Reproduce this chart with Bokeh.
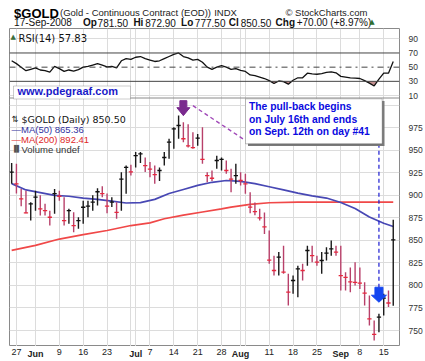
import numpy as np
from bokeh.plotting import figure
from bokeh.layouts import column
from bokeh.models import Range1d, FixedTicker, Span, Label, BoxAnnotation, Grid
from bokeh.embed import file_html
from bokeh.resources import INLINE

# ---------------- data ----------------
dates = ["2008-05-23", "2008-05-27", "2008-05-28", "2008-05-29", "2008-05-30",
         "2008-06-02", "2008-06-03", "2008-06-04", "2008-06-05", "2008-06-06",
         "2008-06-09", "2008-06-10", "2008-06-11", "2008-06-12", "2008-06-13",
         "2008-06-16", "2008-06-17", "2008-06-18", "2008-06-19", "2008-06-20",
         "2008-06-23", "2008-06-24", "2008-06-25", "2008-06-26", "2008-06-27",
         "2008-06-30", "2008-07-01", "2008-07-02", "2008-07-03", "2008-07-07",
         "2008-07-08", "2008-07-09", "2008-07-10", "2008-07-11", "2008-07-14",
         "2008-07-15", "2008-07-16", "2008-07-17", "2008-07-18", "2008-07-21",
         "2008-07-22", "2008-07-23", "2008-07-24", "2008-07-25", "2008-07-28",
         "2008-07-29", "2008-07-30", "2008-07-31", "2008-08-01", "2008-08-04",
         "2008-08-05", "2008-08-06", "2008-08-07", "2008-08-08", "2008-08-11",
         "2008-08-12", "2008-08-13", "2008-08-14", "2008-08-15", "2008-08-18",
         "2008-08-19", "2008-08-20", "2008-08-21", "2008-08-22", "2008-08-25",
         "2008-08-26", "2008-08-27", "2008-08-28", "2008-08-29", "2008-09-02",
         "2008-09-03", "2008-09-04", "2008-09-05", "2008-09-08", "2008-09-09",
         "2008-09-10", "2008-09-11", "2008-09-12", "2008-09-15", "2008-09-16",
         "2008-09-17"]

highs = [936, 935, 907, 905, 892.4, 905, 900, 890.6, 883, 907,
         905, 898, 885, 881.3, 875.7, 894, 894, 900, 908, 910,
         902, 898, 892.4, 925.7, 933, 934, 948, 948, 942, 937,
         933, 931, 948, 962.8, 975.6, 988.6, 981, 979, 970, 968,
         975.6, 925.7, 927.6, 944, 942, 938.7, 929.5, 935, 925.7, 924,
         903.5, 892, 885, 881, 861, 833, 837, 844, 813, 811,
         822, 824, 844, 844, 833, 837, 842.5, 850, 844, 844,
         814.7, 820, 825.8, 820, 803.6, 788.8, 761, 768.5, 790.7, 794.4,
         872.9]
lows = [913, 902, 888, 880, 872, 883, 877.6, 877.6, 866.5, 879.5,
        894, 866.5, 868.4, 859, 862.8, 868.4, 875.7, 883, 888.7, 898,
        880, 887, 874, 883, 901.7, 922, 931, 936, 926, 920,
        913, 916, 933, 940.5, 951.6, 962.8, 959, 953, 951.6, 955,
        935, 914.6, 916, 929.5, 927.6, 924, 903.5, 913, 911, 901.7,
        880, 878, 872, 857, 824, 811, 811, 813, 777.7, 790.7,
        787, 805.5, 822, 825.8, 822, 813, 827.7, 833, 833, 794.4,
        794.4, 792.5, 800, 796, 777.7, 755.5, 738.9, 748, 766.6, 776,
        777.5]
closes = [925.7, 912.8, 896, 880.5, 890.6, 898, 885, 883, 875.7, 902,
          899, 872, 883, 866.5, 872, 886.8, 888, 892.4, 904, 902,
          888, 892.4, 881, 918, 931, 926, 944, 946, 933, 929,
          923, 927.6, 942, 959, 973.8, 977.5, 962.8, 955, 953, 963.5,
          940, 922, 919, 938.7, 940, 927.6, 918, 922, 916.5, 912.8,
          887, 882, 875, 865, 828, 816.6, 831.4, 814.7, 792.5, 805.5,
          818.5, 816.6, 838.8, 833, 825.8, 827.7, 835.8, 840.7, 837, 811,
          809, 804, 803.5, 802.5, 791.5, 763, 745.6, 764.8, 786, 780.5,
          850.5]
rsi14 = [59, 55, 50, 45, 47, 49, 46, 45, 43, 51,
         48, 44, 46, 44.5, 46.5, 50, 51, 53, 55, 53,
         50.5, 51, 49, 59, 62, 61, 64, 65, 62, 60,
         58, 59, 62, 65, 68, 70, 65, 63, 60, 61,
         57, 50, 47, 50, 52, 50, 47, 48, 45.5, 44,
         39, 38, 36, 34, 31, 27, 30.5, 29.5, 26, 31.5,
         35, 35, 41.5, 40.5, 40, 41, 42.5, 43.5, 42, 37,
         36, 35, 34.5, 34, 31, 27.5, 23.5, 33, 41.5, 41.5,
         57.83]
ma50_dates = ["2008-05-23", "2008-05-29", "2008-06-03", "2008-06-06", "2008-06-11",
              "2008-06-16", "2008-06-19", "2008-06-24", "2008-06-27", "2008-07-02",
              "2008-07-08", "2008-07-11", "2008-07-16", "2008-07-21", "2008-07-24",
              "2008-07-29", "2008-08-01", "2008-08-06", "2008-08-11", "2008-08-14",
              "2008-08-19", "2008-08-22", "2008-08-27", "2008-09-02", "2008-09-05",
              "2008-09-10", "2008-09-15", "2008-09-17"]
ma50_vals = [913, 906, 903, 900, 899, 897, 895.5, 893.5, 891.5, 892,
             895.5, 902, 906.5, 911, 914.5, 916.5, 915.5, 913, 909.5, 906,
             902.5, 899.5, 897, 892, 885.5, 876, 869, 865.36]
ma200_dates = ["2008-05-23", "2008-06-02", "2008-06-09", "2008-06-16", "2008-06-23",
               "2008-06-30", "2008-07-07", "2008-07-10", "2008-07-16", "2008-07-22",
               "2008-07-28", "2008-07-30", "2008-08-05", "2008-08-11", "2008-08-19",
               "2008-09-02", "2008-09-17"]
ma200_vals = [839, 844.5, 851.5, 856.5, 861, 866.5, 869.5, 874, 878, 881.5,
              885, 887, 890, 891.8, 892.4, 892.6, 892.41]
xtick_dates = ["2008-05-27", "2008-06-02", "2008-06-09", "2008-06-16", "2008-06-23",
               "2008-06-30", "2008-07-01", "2008-07-07", "2008-07-14", "2008-07-21",
               "2008-07-28", "2008-08-01", "2008-08-04", "2008-08-11", "2008-08-18",
               "2008-08-25", "2008-09-02", "2008-09-08", "2008-09-15"]
xtick_labels = ["27", "Jun", "9", "16", "23", "", "Jul", "7", "14", "21",
                "28", "Aug", "", "11", "18", "25", "Sep", "8", "15"]
month_labels = ["Jun", "Jul", "Aug", "Sep"]
price_ticks = [750, 775, 800, 825, 850, 875, 900, 925, 950, 975]
price_grid = [750, 775, 800, 825, 850, 875, 900, 925, 950, 975, 1000]
rsi_ticks = [10, 30, 50, 70, 90]

# ---------------- geometry (page pixels) ----------------
PAGE_W, PAGE_H = 425, 361
HEADER_H = 28
FL, FR, FT, FB = 9, 399, 28, 346          # main frame edges on the page
FOOTER_H = PAGE_H - FB
BAR_PX = 4.77
FIRST_BAR_X = 11.15
PRICE_PX = 0.901
RSI_PX = 0.709
x_start = -(FIRST_BAR_X - FL) / BAR_PX
x_end = x_start + (FR - FL) / BAR_PX
y_start = 750 - (FB - 330) / PRICE_PX
y_end = y_start + (FB - FT) / PRICE_PX
r_end = 90 + (38.3 - FT) / RSI_PX
r_start = r_end - (FB - FT) / RSI_PX


def X(px):
    return x_start + (px - FL) / BAR_PX


def Y(py):
    return y_start + (FB - py) / PRICE_PX


def rsi_to_price(r):
    return y_start + (r - r_start) / (r_end - r_start) * (y_end - y_start)


idx = {d: i for i, d in enumerate(dates)}
xs = np.arange(len(dates))
hi = np.array(highs)
lo = np.array(lows)
cl = np.array(closes)
up = np.concatenate([[True], cl[1:] > cl[:-1]])
x_range = Range1d(x_start, x_end)


def bare(fig):
    fig.axis.visible = False
    fig.grid.visible = False
    fig.outline_line_color = None
    fig.background_fill_color = "white"
    fig.border_fill_color = "white"


# ---------------- header figure ----------------
hdr = figure(width=PAGE_W, height=HEADER_H, x_range=Range1d(0, PAGE_W), y_range=Range1d(HEADER_H, 0),
             output_backend="svg", toolbar_location=None,
             min_border_left=0, min_border_right=0, min_border_top=0, min_border_bottom=0)
bare(hdr)


def hlab(text, px, py, size, bold=False, color="#111111", font="Liberation Sans", align="left"):
    hdr.add_layout(Label(x=px, y=py, text=text, text_font=font, text_font_size=f"{size}px",
                         text_font_style="bold" if bold else "normal", text_color=color,
                         text_align=align, text_baseline="alphabetic"))


hlab("$GOLD", 5, 12.5, 13, bold=True, color="#000000")
hlab("(Gold - Continuous Contract (EOD))", 55, 12, 9.5, color="#222222")
hlab("INDX", 223, 12, 9.5, color="#222222")
hlab("\u00a9 StockCharts.com", 390, 12, 9.5, color="#222222", align="right")
for txt, px, b in [("17-Sep-2008", 5, False), ("Op", 80, True), ("781.50", 96, False),
                   ("Hi", 135, True), ("872.90", 148, False), ("Lo", 187, True),
                   ("777.50", 202, False), ("Cl", 239, True), ("850.50", 252, False),
                   ("Chg", 290, True), ("+70.00 (+8.97%)", 313, False)]:
    hlab(txt, px, 22, 10, bold=b)
hlab("\u25b2", 392, 21.5, 7, color="#2e6e2e", font="DejaVu Sans")

# ---------------- main figure ----------------
MAIN_H = FB - HEADER_H
p = figure(width=PAGE_W, height=MAIN_H, x_range=x_range, y_range=Range1d(y_start, y_end),
           output_backend="svg", toolbar_location=None, y_axis_location="right",
           min_border_left=FL, min_border_right=PAGE_W - FR,
           min_border_top=FT - HEADER_H, min_border_bottom=0)
p.extra_y_ranges = {"rsi": Range1d(r_start, r_end)}
p.background_fill_color = "white"
p.border_fill_color = "white"
p.outline_line_color = "#8a8a8a"
p.outline_line_width = 1
p.xaxis.visible = False

# grids
tick_idx = [idx[d] for d in xtick_dates]
p.xgrid.ticker = FixedTicker(ticks=tick_idx)
p.xgrid.grid_line_color = "#dcdcdc"
p.ygrid.ticker = FixedTicker(ticks=price_grid)
p.ygrid.grid_line_color = "#dcdcdc"
p.add_layout(Grid(dimension=1, ticker=FixedTicker(ticks=[10, 90]), y_range_name="rsi",
                  grid_line_color="#dcdcdc"))

# right axis: price ticks plus RSI ticks (mapped through the two ranges)
yax = p.yaxis[0]
rsi_pos = [round(rsi_to_price(r), 4) for r in rsi_ticks]
yax.ticker = FixedTicker(ticks=price_ticks + rsi_pos)
yax.major_label_overrides = {pos: str(r) for pos, r in zip(rsi_pos, rsi_ticks)}
yax.axis_line_color = None
yax.major_tick_line_color = None
yax.minor_tick_line_color = None
yax.major_label_standoff = 3
yax.major_label_text_font = "Liberation Sans"
yax.major_label_text_font_size = "8.5px"
yax.major_label_text_color = "#333333"

# panel separator and RSI reference lines
p.add_layout(Span(location=Y(97.5), dimension="width", line_color="#8a8a8a", line_width=1))
for lvl, dash in [(70, "solid"), (30, "solid"), (50, "dashdot")]:
    p.add_layout(Span(location=lvl, dimension="width", y_range_name="rsi",
                      line_color="#444444", line_width=1, line_dash=dash))

# RSI fill below 30 / above 70
for lvl, fn in [(30, min), (70, max)]:
    fx, fy = [], []
    for i, r in enumerate(rsi14):
        if i > 0 and (rsi14[i - 1] - lvl) * (r - lvl) < 0:
            t = (lvl - rsi14[i - 1]) / (r - rsi14[i - 1])
            fx.append(i - 1 + t)
            fy.append(lvl)
        fx.append(i)
        fy.append(fn(r, lvl))
    p.varea(x=fx, y1=fy, y2=[lvl] * len(fy), y_range_name="rsi", fill_color="#c49090")
p.line(xs, rsi14, y_range_name="rsi", line_color="#111111", line_width=1.3)

# moving averages
p.line([idx[d] for d in ma200_dates], ma200_vals, line_color="#f04848", line_width=1.7)
p.line([idx[d] for d in ma50_dates], ma50_vals, line_color="#4848b4", line_width=1.7)

# price bars
body = np.where(up, "#1a1a1a", "#b8406a")
tick = np.where(up, "#111111", "#e8283c")
p.segment(x0=xs, y0=lo, x1=xs, y1=hi, line_color=body, line_width=1.4)
p.segment(x0=xs - 0.45, y0=cl, x1=xs + 0.45, y1=cl, line_color=tick, line_width=1.3)


# annotation arrows anchored to bars
def arrow(i, tip_price, half_head, half_stem, head_px, len_px, color):
    pts = [(0, 0), (half_head, head_px), (half_stem, head_px), (half_stem, len_px),
           (-half_stem, len_px), (-half_stem, head_px), (-half_head, head_px)]
    ax_ = [i + dx / BAR_PX for dx, dy in pts]
    ay_ = [tip_price + dy / PRICE_PX for dx, dy in pts]
    p.patch(ax_, ay_, fill_color=color, line_color=color)


peak = idx["2008-07-16"]
low_day = idx["2008-09-12"]
purple_tip = hi[peak] + 6.7 / PRICE_PX
blue_tip = hi[low_day] + 11.6 / PRICE_PX
arrow(peak, purple_tip, 6.5, 3.5, 8, 15, "#7a2a8e")
arrow(low_day, blue_tip, 7.5, 4, 7, 15, "#1446f0")

# callout box
p.add_layout(BoxAnnotation(left=X(247.5), right=X(384), top=Y(100.5), bottom=Y(145.5),
                           fill_color="#7a7a7a", fill_alpha=1, line_color=None))
p.add_layout(BoxAnnotation(left=X(245), right=X(381.7), top=Y(98.3), bottom=Y(143.3),
                           fill_color="white", fill_alpha=1, line_color="#333333", line_width=1))
p.segment(x0=[peak + 2.0], y0=[purple_tip + 10 / PRICE_PX], x1=[X(245)], y1=[Y(140)],
          line_color="#a048b8", line_width=1.4, line_dash="4 3")
p.segment(x0=[low_day], y0=[Y(143.3)], x1=[low_day], y1=[blue_tip + 15 / PRICE_PX],
          line_color="#1a1ad0", line_width=1.2, line_dash="4 3")

for txt, by in [("The pull-back begins", 111.5), ("on July 16th and ends", 124),
                ("on Sept. 12th on day #41", 136.5)]:
    p.add_layout(Label(x=X(248.5), y=Y(by), text=txt, text_font="Liberation Sans",
                       text_font_size="10.3px", text_font_style="bold", text_color="#0a0ae0"))

# website box
p.add_layout(BoxAnnotation(left=X(13), right=X(130), top=Y(85.5), bottom=Y(98.5),
                           fill_color="white", fill_alpha=1, line_color="#555555", line_width=1))
p.add_layout(Label(x=X(17), y=Y(96), text="www.pdegraaf.com", text_font="Liberation Sans",
                   text_font_size="11px", text_font_style="bold", text_color="#1a1ac8"))


def lab(text, px, py, size, bold=False, color="#000000", font="Liberation Sans", align="left"):
    p.add_layout(Label(x=X(px), y=Y(py), text=text, text_font=font, text_font_size=f"{size}px",
                       text_font_style="bold" if bold else "normal", text_color=color,
                       text_align=align, text_baseline="alphabetic"))


# legends inside panels
lab("\u25b2", 10, 36.5, 7, color="#3c6e3c", font="DejaVu Sans")
lab("RSI(14) 57.83", 18, 37.5, 10, color="#111111", font="DejaVu Sans")
lab("\u21c5", 11, 118.5, 8.5, color="#222222", font="DejaVu Sans")
lab("$GOLD (Daily) 850.50", 21, 118.5, 9.5, color="#111111", font="DejaVu Sans")
lab("\u2014MA(50) 865.36", 11, 128.5, 9.5, color="#3232a0")
lab("\u2014MA(200) 892.41", 11, 138.5, 9.5, color="#e02828")
lab("\u2590\u258c", 11, 148.5, 6.5, color="#555555", font="DejaVu Sans")
lab("Volume undef", 21, 148.5, 9.5, color="#333333")

# ---------------- date labels strip (shares the main x scale) ----------------
ftr = figure(width=PAGE_W, height=FOOTER_H, x_range=x_range, y_range=Range1d(FOOTER_H, 0),
             output_backend="svg", toolbar_location=None,
             min_border_left=FL, min_border_right=PAGE_W - FR, min_border_top=0, min_border_bottom=0)
bare(ftr)
for i, lab_txt in zip(tick_idx, xtick_labels):
    if lab_txt:
        ftr.add_layout(Label(x=i, y=2.5, text=lab_txt, text_font="Liberation Sans",
                             text_font_size="9px",
                             text_font_style="bold" if lab_txt in month_labels else "normal",
                             text_color="#222222", text_align="center", text_baseline="top"))

layout = column(hdr, p, ftr, spacing=0)
open("out.html", "w").write(file_html(layout, INLINE))
